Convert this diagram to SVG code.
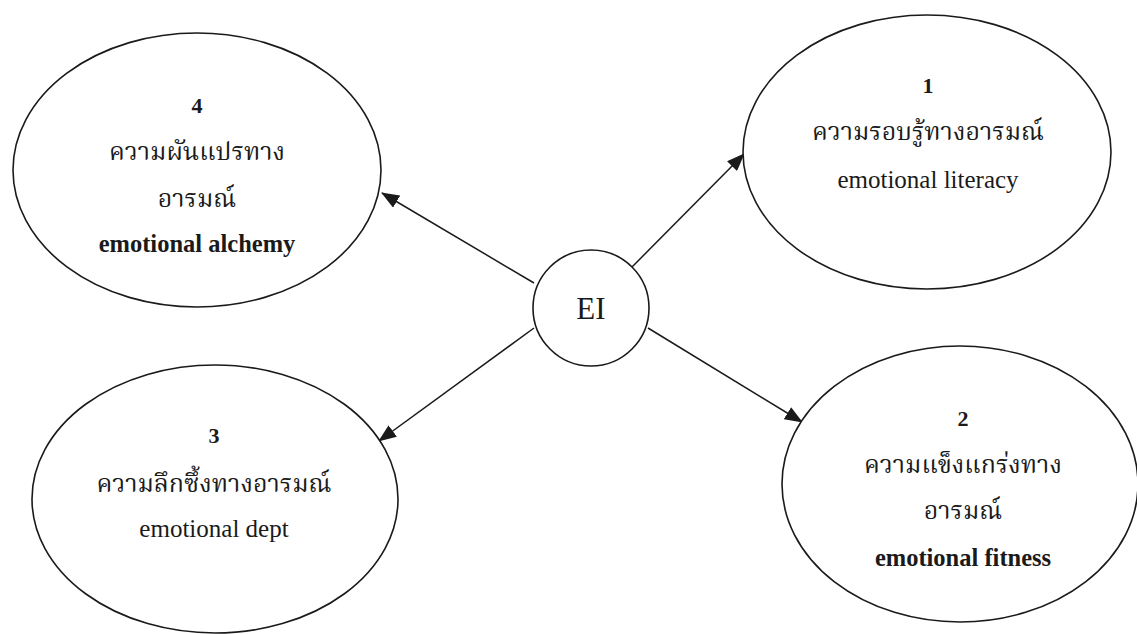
<svg xmlns="http://www.w3.org/2000/svg" width="1137" height="634" viewBox="0 0 1137 634">
<style>
.node{fill:#fff;stroke:#1a1a1a;stroke-width:1.6}
.edge{stroke:#1a1a1a;stroke-width:1.5;fill:none;marker-end:url(#ah)}
.t{font-family:"Liberation Serif","Noto Serif Thai","Noto Sans Thai",serif;fill:#1a1a1a;text-anchor:middle}
.num{font-size:22px;font-weight:bold}
.th{font-size:25px}
.en{font-size:25px}
.enb{font-size:24.5px;font-weight:bold}
.ei{font-size:31px}
</style>
<defs>
<marker id="ah" markerUnits="userSpaceOnUse" markerWidth="18" markerHeight="14" refX="17" refY="7" orient="auto">
<path d="M0,0 L18,7 L0,14 z" fill="#1a1a1a"/>
</marker>
</defs>
<rect width="1137" height="634" fill="#fff"/>
<g id="connectors">
<line class="edge" x1="534" y1="283" x2="382" y2="193"/>
<line class="edge" x1="632" y1="267" x2="744" y2="154"/>
<line class="edge" x1="534" y1="328" x2="379" y2="441"/>
<line class="edge" x1="648" y1="328" x2="802" y2="422"/>
</g>
<g id="node-ei">
<circle class="node" cx="591" cy="308" r="58"/>
<text class="t ei" x="591" y="319">EI</text>
</g>
<g id="node-4">
<ellipse class="node" cx="197" cy="170" rx="184" ry="137"/>
<text class="t num" x="197" y="113">4</text>
<text class="t th" x="197" y="160">ความผันแปรทาง</text>
<text class="t th" x="197" y="207">อารมณ์</text>
<text class="t enb" x="197" y="252">emotional alchemy</text>
</g>
<g id="node-1">
<ellipse class="node" cx="927" cy="152" rx="184" ry="137"/>
<text class="t num" x="928" y="93">1</text>
<text class="t th" x="928" y="140">ความรอบรู้ทางอารมณ์</text>
<text class="t en" x="928" y="188">emotional literacy</text>
</g>
<g id="node-3">
<ellipse class="node" cx="215" cy="499" rx="183" ry="134"/>
<text class="t num" x="214" y="443">3</text>
<text class="t th" x="214" y="492">ความลึกซึ้งทางอารมณ์</text>
<text class="t en" x="214" y="537">emotional dept</text>
</g>
<g id="node-2">
<ellipse class="node" cx="960" cy="484" rx="178" ry="138"/>
<text class="t num" x="963" y="426">2</text>
<text class="t th" x="963" y="473">ความแข็งแกร่งทาง</text>
<text class="t th" x="963" y="519">อารมณ์</text>
<text class="t enb" x="963" y="566">emotional fitness</text>
</g>
</svg>
